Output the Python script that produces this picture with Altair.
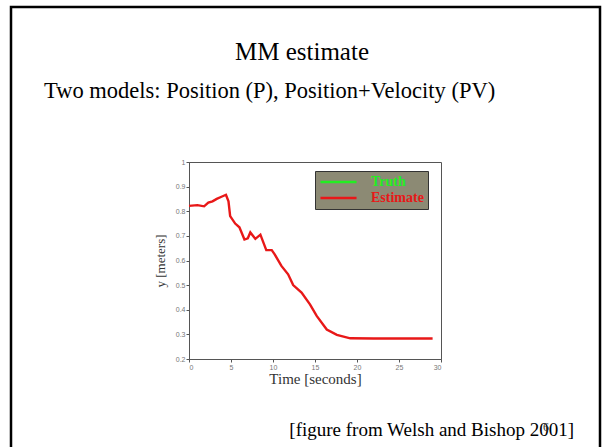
import altair as alt
import pandas as pd

# ---- data ----
time_s = [0, 1, 1.8, 2.3, 2.8, 3.3, 3.8, 4.4, 4.7, 4.9, 5.5, 6.0, 6.6, 7.0, 7.3, 7.9,
          8.5, 9.2, 9.85, 10.2, 11.0, 11.8, 12.4, 13.4, 14.4, 15.2, 16.4, 17.6, 19.2,
          22.0, 29.0]
estimate = [0.822, 0.825, 0.82, 0.835, 0.84, 0.85, 0.858, 0.867, 0.84, 0.78, 0.75,
            0.735, 0.685, 0.69, 0.714, 0.688, 0.705, 0.642, 0.642, 0.625, 0.578,
            0.544, 0.50, 0.47, 0.422, 0.375, 0.32, 0.298, 0.284, 0.283, 0.283]
series_names = ["Truth", "Estimate"]
series_colors = ["#22ee22", "#e81818"]
x_ticks = [0, 5, 10, 15, 20, 25, 30]
y_ticks = [0.2, 0.3, 0.4, 0.5, 0.6, 0.7, 0.8, 0.9, 1.0]

slide_title = "MM estimate"
slide_sub = "Two models: Position (P), Position+Velocity (PV)"
caption = "[figure from Welsh and Bishop 2001]"
page_no = "6"

df = pd.DataFrame({"t": time_s, "y": estimate, "series": "Estimate"})

# plot area geometry (pixels in the 602x447 page)
L, T, W, H = 189, 162, 252, 197
SERIF = "Liberation Serif"

line = alt.Chart(df).mark_line(strokeWidth=2.4).encode(
    x=alt.X("t:Q", scale=alt.Scale(domain=[0, 30], nice=False),
            axis=alt.Axis(values=x_ticks, title="Time [seconds]", format="~g",
                          labelFontSize=7, labelColor="#777", tickSize=3,
                          tickColor="#555", domainColor="#555", grid=False,
                          titleFont=SERIF, titleFontSize=15, titleFontWeight="normal",
                          titleColor="#333", titlePadding=1, labelPadding=1)),
    y=alt.Y("y:Q", scale=alt.Scale(domain=[0.2, 1.0], nice=False),
            axis=alt.Axis(values=y_ticks, title="y [meters]", format="~g",
                          labelFontSize=7, labelColor="#777", tickSize=3,
                          tickColor="#555", domainColor="#555", grid=False,
                          titleFont=SERIF, titleFontSize=13, titleFontWeight="normal",
                          titleColor="#333", titlePadding=8, labelPadding=1)),
    color=alt.Color("series:N",
                    scale=alt.Scale(domain=series_names, range=series_colors),
                    legend=alt.Legend(title=None, orient="none",
                                      legendX=126, legendY=9,
                                      fillColor="#8c8a74", strokeColor="#333",
                                      padding=4, symbolType="stroke",
                                      symbolSize=1300, symbolStrokeWidth=2.5,
                                      clipHeight=14,
                                      labelFont=SERIF, labelFontSize=14,
                                      labelFontWeight="bold",
                                      labelColor=alt.ExprRef(
                                          "datum.label == 'Truth' ? '#22ee22' : '#e81818'"),
                                      rowPadding=2, labelOffset=13)),
)

def txt(s, x, y, size, align="left", color="#000"):
    return alt.Chart(df.head(1)).mark_text(
        text=s, font=SERIF, fontSize=size, align=align, baseline="alphabetic",
        color=color
    ).encode(x=alt.value(x - L), y=alt.value(y - T))

frame = alt.Chart(df.head(1)).mark_rect(
    fill=None, stroke="#000", strokeWidth=2.5
).encode(x=alt.value(11 - L), x2=alt.value(600 - L),
         y=alt.value(7 - T), y2=alt.value(452 - T))

chart = alt.layer(
    frame,
    line,
    txt(slide_title, 302, 60, 25, align="center"),
    txt(slide_sub, 44, 98, 22.5),
    txt(caption, 574, 436, 19, align="right"),
    txt(page_no, 546, 431, 12, align="center", color="#333"),
).properties(
    width=W, height=H,
    autosize=alt.AutoSizeParams(type="none"),
    padding={"left": L, "top": T, "right": 602 - L - W, "bottom": 447 - T - H},
    background="white",
).configure_view(stroke="#555", strokeWidth=1)

chart.save("out.html", embed_options={"renderer": "svg", "actions": False})
